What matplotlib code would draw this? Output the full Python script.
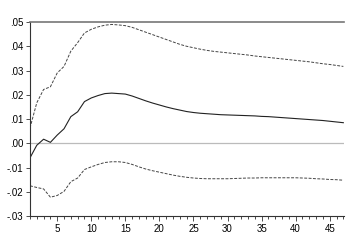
import matplotlib
matplotlib.use("Agg")
import matplotlib.pyplot as plt
from matplotlib.ticker import MultipleLocator

plt.rcParams['font.family'] = ['Liberation Sans', 'DejaVu Sans']

# Impulse response with +/- 2 s.e. bands, periods 1..47
periods = list(range(1, 48))
response = [-0.0060, -0.0008, 0.0017, 0.0004, 0.0034, 0.0060, 0.0110, 0.0130, 0.0172, 0.0187,
            0.0197, 0.0205, 0.0207, 0.0205, 0.0203, 0.0195, 0.0185, 0.0175, 0.0166, 0.0158,
            0.0150, 0.0143, 0.0137, 0.0131, 0.0127, 0.0124, 0.0122, 0.0120, 0.0118, 0.0117,
            0.0116, 0.0115, 0.0114, 0.0113, 0.0111, 0.0110, 0.0108, 0.0106, 0.0104, 0.0102,
            0.0100, 0.0098, 0.0096, 0.0094, 0.0091, 0.0088, 0.0085]
upper = [0.0063, 0.0167, 0.0222, 0.0233, 0.0290, 0.0317, 0.0380, 0.0415, 0.0455, 0.0470,
         0.0480, 0.0487, 0.0490, 0.0488, 0.0485, 0.0478, 0.0468, 0.0458, 0.0448, 0.0438,
         0.0428, 0.0418, 0.0408, 0.0400, 0.0394, 0.0388, 0.0383, 0.0379, 0.0376, 0.0373,
         0.0370, 0.0367, 0.0364, 0.0360, 0.0357, 0.0354, 0.0351, 0.0348, 0.0345, 0.0342,
         0.0339, 0.0336, 0.0332, 0.0328, 0.0325, 0.0321, 0.0317]
lower = [-0.0175, -0.0182, -0.0188, -0.0222, -0.0215, -0.0198, -0.0158, -0.0143, -0.0108, -0.0097,
         -0.0087, -0.0079, -0.0076, -0.0076, -0.0079, -0.0087, -0.0097, -0.0106, -0.0113, -0.0119,
         -0.0125, -0.0131, -0.0136, -0.0140, -0.0143, -0.0145, -0.0146, -0.0146, -0.0146, -0.0146,
         -0.0145, -0.0144, -0.0143, -0.0143, -0.0142, -0.0142, -0.0142, -0.0142, -0.0142, -0.0142,
         -0.0143, -0.0144, -0.0146, -0.0147, -0.0149, -0.0150, -0.0152]

y_ticks = [-0.03, -0.02, -0.01, 0.00, 0.01, 0.02, 0.03, 0.04, 0.05]
y_labels = ['-.03', '-.02', '-.01', '.00', '.01', '.02', '.03', '.04', '.05']
x_ticks = [5, 10, 15, 20, 25, 30, 35, 40, 45]

fig = plt.figure(figsize=(3.61, 2.42), dpi=100)
ax = fig.add_axes([0.083, 0.107, 0.87, 0.802])

ax.axhline(0, color='#bbbbbb', lw=0.9, zorder=1)
ax.plot(periods, response, color='#222222', lw=0.8)
ax.plot(periods, upper, color='#444444', lw=0.7, ls=(0, (3, 1.5)))
ax.plot(periods, lower, color='#444444', lw=0.7, ls=(0, (3, 1.5)))

ax.set_xlim(1, 47.1)
ax.set_ylim(-0.03, 0.05)
ax.set_yticks(y_ticks)
ax.set_yticklabels(y_labels)
ax.set_xticks(x_ticks)
ax.xaxis.set_minor_locator(MultipleLocator(1))

ax.spines['right'].set_visible(False)
ax.spines['top'].set_color('#777777')
ax.spines['top'].set_linewidth(1.2)
ax.spines['left'].set_color('#333333')
ax.spines['bottom'].set_color('#333333')
ax.spines['left'].set_linewidth(0.8)
ax.spines['bottom'].set_linewidth(0.8)

ax.tick_params(axis='both', labelsize=7, color='#333333', width=0.6, pad=2)
ax.tick_params(axis='y', length=3)
ax.tick_params(axis='x', which='major', length=3.5)
ax.tick_params(axis='x', which='minor', length=2, width=0.5)

fig.savefig('out.png', dpi=100)
